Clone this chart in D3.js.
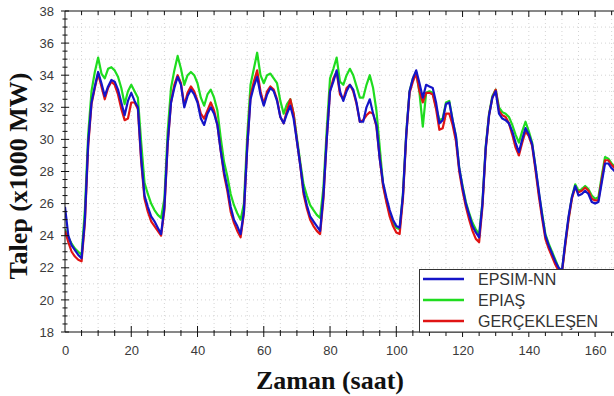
<!DOCTYPE html>
<html>
<head>
<meta charset="utf-8">
<script src="https://cdn.jsdelivr.net/npm/d3@7"></script>
<style>
  body { margin: 0; background: #fff; }
  svg { display: block; }
</style>
</head>
<body>
<div id="chart"></div>
<script>
// hourly demand, one week (x1000 MW)
const epsimNN = [
  25.8, 24.0, 23.4, 23.1, 22.8, 22.6, 25.0, 29.8, 32.3, 33.3, 34.2, 33.5, 32.7, 33.3, 33.7, 33.6, 33.1, 32.3, 31.5, 32.4, 32.9, 32.4, 32.0, 28.8,
  26.5, 25.8, 25.2, 24.9, 24.5, 24.1, 25.8, 29.8, 32.3, 33.2, 33.9, 33.4, 32.0, 32.7, 33.1, 32.8, 32.3, 31.3, 30.9, 31.6, 32.0, 31.6, 30.9, 29.3,
  28.0, 27.0, 25.8, 25.0, 24.6, 24.1, 25.5, 29.5, 32.5, 33.3, 33.9, 32.8, 32.1, 32.8, 33.2, 33.0, 32.4, 31.4, 31.0, 31.6, 32.1, 31.3, 29.9, 28.4,
  26.8, 25.9, 25.2, 24.9, 24.6, 24.3, 26.5, 30.0, 33.0, 33.6, 34.3, 33.0, 32.4, 33.0, 33.4, 33.1, 32.3, 31.1, 31.1, 32.0, 32.5, 31.6, 30.9, 28.8,
  27.3, 26.4, 25.6, 25.0, 24.6, 24.5, 26.5, 30.3, 33.0, 33.8, 34.3, 33.5, 32.6, 33.4, 33.3, 33.2, 32.3, 31.0, 31.2, 32.2, 32.3, 31.2, 30.2, 28.2,
  27.0, 26.0, 25.3, 24.6, 24.2, 23.9, 26.0, 29.5, 31.5, 32.6, 33.0, 31.6, 31.3, 31.2, 31.0, 30.5, 29.8, 29.2, 30.0, 30.7, 30.3, 29.7, 28.3, 26.8,
  25.3, 24.0, 23.4, 22.9, 22.4, 22.0, 21.8, 23.6, 25.2, 26.4, 27.1, 26.5, 26.6, 26.8, 26.6, 26.1, 26.0, 26.1, 27.3, 28.5, 28.5, 28.2, 28.0, 27.8
];
const epias = [
  24.4, 23.9, 23.5, 23.2, 23.0, 22.8, 25.6, 30.3, 33.0, 34.2, 35.1, 34.1, 33.8, 34.4, 34.5, 34.3, 33.9, 33.2, 32.2, 33.0, 33.4, 33.0, 32.6, 29.8,
  27.3, 26.6, 26.0, 25.6, 25.3, 25.1, 26.3, 30.5, 33.2, 34.3, 35.2, 34.4, 33.4, 34.0, 34.2, 34.0, 33.5, 32.6, 32.1, 32.8, 33.1, 32.6, 31.8, 30.1,
  28.6, 27.7, 26.6, 25.9, 25.4, 25.0, 26.0, 30.2, 33.4, 34.4, 35.4, 34.0, 33.5, 34.0, 34.1, 33.8, 33.5, 32.4, 31.6, 32.2, 32.5, 31.6, 30.1, 28.6,
  27.2, 26.5, 25.9, 25.6, 25.3, 25.1, 27.0, 30.6, 33.8, 34.4, 35.1, 33.6, 33.4, 34.0, 34.4, 34.0, 33.3, 32.6, 32.6, 33.4, 34.0, 33.2, 31.8, 29.5,
  27.2, 26.2, 25.4, 24.8, 24.5, 24.4, 26.6, 30.4, 33.0, 33.8, 34.2, 32.9, 30.8, 32.9, 33.0, 32.9, 32.0, 31.2, 31.3, 32.3, 32.4, 31.2, 30.2, 28.2,
  27.1, 26.1, 25.4, 24.8, 24.4, 24.1, 26.1, 29.6, 31.6, 32.7, 33.1, 32.0, 31.7, 31.6, 31.4, 30.9, 30.3, 29.8, 30.5, 31.1, 30.5, 29.8, 28.3, 26.7,
  25.4, 24.1, 23.5, 23.0, 22.5, 22.0, 21.8, 23.5, 25.1, 26.4, 27.2, 26.8, 26.9, 27.1, 26.9, 26.5, 26.3, 26.4, 27.7, 28.9, 28.8, 28.5, 28.3, 28.0
];
const gerceklesen = [
  24.3, 23.6, 23.0, 22.7, 22.5, 22.4, 24.8, 29.6, 32.2, 33.2, 34.1, 33.3, 32.5, 33.2, 33.6, 33.4, 32.8, 31.9, 31.2, 31.3, 32.3, 32.3, 31.9, 28.6,
  26.3, 25.5, 24.9, 24.6, 24.3, 24.0, 25.6, 29.7, 32.3, 33.4, 34.0, 33.5, 32.1, 32.9, 33.3, 33.0, 32.4, 31.6, 31.3, 31.8, 32.3, 31.8, 30.9, 29.3,
  27.8, 26.8, 25.5, 24.8, 24.3, 23.9, 25.4, 29.5, 32.7, 33.6, 34.3, 33.0, 32.2, 33.0, 33.3, 33.1, 32.5, 31.4, 31.0, 31.8, 32.5, 31.6, 29.9, 28.4,
  26.6, 25.7, 25.0, 24.6, 24.3, 24.1, 26.3, 30.0, 33.0, 33.8, 34.2, 32.8, 32.5, 33.2, 33.4, 33.0, 32.2, 31.1, 31.2, 31.5, 31.7, 31.6, 30.8, 28.8,
  27.1, 26.1, 25.2, 24.6, 24.2, 24.1, 26.3, 30.2, 32.9, 33.6, 34.1, 33.0, 32.3, 32.9, 32.9, 32.8, 31.9, 30.6, 30.7, 31.6, 31.6, 30.9, 29.9, 28.0,
  26.8, 25.8, 25.0, 24.3, 23.8, 23.6, 25.8, 29.4, 31.5, 32.6, 33.1, 31.8, 31.5, 31.4, 31.0, 30.3, 29.5, 29.0, 29.8, 30.5, 30.2, 29.6, 28.1, 26.5,
  25.1, 23.8, 23.2, 22.7, 22.2, 21.8, 21.7, 23.4, 25.0, 26.3, 27.0, 26.7, 26.8, 27.0, 26.8, 26.3, 26.2, 26.2, 27.5, 28.7, 28.7, 28.4, 28.2, 27.9
];
const hours = d3.range(epsimNN.length);

const xTicks = [0, 20, 40, 60, 80, 100, 120, 140, 160];
const yTicks = [18, 20, 22, 24, 26, 28, 30, 32, 34, 36, 38];
const seriesNames = ["EPSIM-NN", "EPIAŞ", "GERÇEKLEŞEN"];

const width = 614,
    height = 396,
    margin = ({ top: 11, left: 65, bottom: 64 });

const svg = d3.select("#chart")
    .append("svg")
    .attr("width", width)
    .attr("height", height);

// plot runs past the right edge of the picture
let x = d3.scaleLinear()
    .domain([0, 168])
    .range([margin.left, margin.left + 168 * 3.313]);

let y = d3.scaleLinear()
    .domain([18, 38])
    .range([height - margin.bottom, margin.top]);

const plotRight = width + 20;

svg.append("clipPath")
    .attr("id", "plot-clip")
  .append("rect")
    .attr("x", margin.left)
    .attr("y", margin.top)
    .attr("width", plotRight - margin.left)
    .attr("height", y(18) - y(38));

// dotted grid
let grid = svg.append("g").attr("stroke", "#d4d4d4").attr("stroke-dasharray", "1,3");
grid.selectAll("line.gy")
    .data(d3.range(19, 38, 1))
    .join("line")
    .attr("x1", margin.left).attr("x2", plotRight)
    .attr("y1", d => y(d)).attr("y2", d => y(d));
grid.selectAll("line.gx")
    .data(d3.range(5, 170, 5))
    .join("line")
    .attr("y1", y(18)).attr("y2", y(38))
    .attr("x1", d => x(d)).attr("x2", d => x(d));

// lines
let line = d3.line()
    .x((d, i) => x(hours[i]))
    .y(d => y(d));

const series = [
  { name: seriesNames[1], values: epias, color: "#1fdc1f" },
  { name: seriesNames[2], values: gerceklesen, color: "#e01414" },
  { name: seriesNames[0], values: epsimNN, color: "#1414c8" }
];

svg.append("g")
    .attr("clip-path", "url(#plot-clip)")
  .selectAll("path")
  .data(series)
  .join("path")
    .attr("d", d => line(d.values))
    .attr("fill", "none")
    .attr("stroke", d => d.color)
    .attr("stroke-width", 2.2)
    .attr("stroke-linejoin", "round");

// axes
const axisColor = "#111";
const labelColor = "#3a3a3a";

let bottom = svg.append("g")
    .attr("transform", `translate(0,${y(18)})`)
    .call(d3.axisBottom(x).tickValues(xTicks).tickSize(0).tickPadding(14).tickFormat(d3.format("d")));
bottom.select(".domain").remove();
bottom.selectAll("text")
    .attr("font-family", "Arial, 'Liberation Sans', sans-serif")
    .attr("font-size", 13)
    .attr("fill", labelColor);

let left = svg.append("g")
    .attr("transform", `translate(${margin.left},0)`)
    .call(d3.axisLeft(y).tickValues(yTicks).tickSize(0).tickPadding(11).tickFormat(d3.format("d")));
left.select(".domain").remove();
left.selectAll("text")
    .attr("font-family", "Arial, 'Liberation Sans', sans-serif")
    .attr("font-size", 13)
    .attr("fill", labelColor);

let ticks = svg.append("g").attr("stroke", axisColor).attr("stroke-width", 1);

// axis lines
ticks.append("line")
    .attr("x1", margin.left).attr("x2", margin.left)
    .attr("y1", y(38)).attr("y2", y(18));
ticks.append("line")
    .attr("x1", margin.left).attr("x2", plotRight)
    .attr("y1", y(18)).attr("y2", y(18));
ticks.append("line")
    .attr("x1", margin.left).attr("x2", plotRight)
    .attr("y1", y(38)).attr("y2", y(38));

// y ticks, crossing the axis
ticks.selectAll("line.yt")
    .data(d3.range(18, 38.01, 0.5))
    .join("line")
    .attr("x1", d => margin.left - (d % 2 === 0 ? 4 : 2.5))
    .attr("x2", d => margin.left + (d % 2 === 0 ? 4 : 2.5))
    .attr("y1", d => y(d)).attr("y2", d => y(d));

// x ticks bottom and top
ticks.selectAll("line.xb")
    .data(d3.range(5, 170, 5))
    .join("line")
    .attr("x1", d => x(d)).attr("x2", d => x(d))
    .attr("y1", d => y(18) - (d % 20 === 0 ? 6 : 2))
    .attr("y2", d => y(18) + (d % 20 === 0 ? 5 : 4));
ticks.selectAll("line.xt")
    .data(d3.range(5, 170, 5))
    .join("line")
    .attr("x1", d => x(d)).attr("x2", d => x(d))
    .attr("y1", y(38))
    .attr("y2", d => y(38) + (d % 20 === 0 ? 6 : 4));

// legend
let legend = svg.append("g");
legend.append("rect")
    .attr("x", 419.5).attr("y", 269.5)
    .attr("width", 220).attr("height", y(18) - 269.5)
    .attr("fill", "#fff")
    .attr("stroke", "#333");

let legendOrder = [series[2], series[0], series[1]];
legendOrder.forEach((s, i) => {
  let ly = 279 + i * 21;
  legend.append("line")
      .attr("x1", 423).attr("x2", 464)
      .attr("y1", ly).attr("y2", ly)
      .attr("stroke", s.color)
      .attr("stroke-width", 2.5);
  legend.append("text")
      .attr("x", 478).attr("y", ly)
      .attr("dy", "0.36em")
      .attr("font-family", "Arial, 'Liberation Sans', sans-serif")
      .attr("font-size", 16)
      .attr("fill", "#333")
      .text(s.name);
});

// titles
svg.append("text")
    .attr("text-anchor", "middle")
    .attr("x", 330)
    .attr("y", 389)
    .attr("font-family", "'Liberation Serif', 'Times New Roman', serif")
    .attr("font-weight", "bold")
    .attr("font-size", 26)
    .attr("fill", "#111")
    .text("Zaman (saat)");

svg.append("text")
    .attr("text-anchor", "middle")
    .attr("transform", "translate(27,176) rotate(-90)")
    .attr("font-family", "'Liberation Serif', 'Times New Roman', serif")
    .attr("font-weight", "bold")
    .attr("font-size", 26)
    .attr("fill", "#111")
    .text("Talep (x1000 MW)");
</script>
</body>
</html>
